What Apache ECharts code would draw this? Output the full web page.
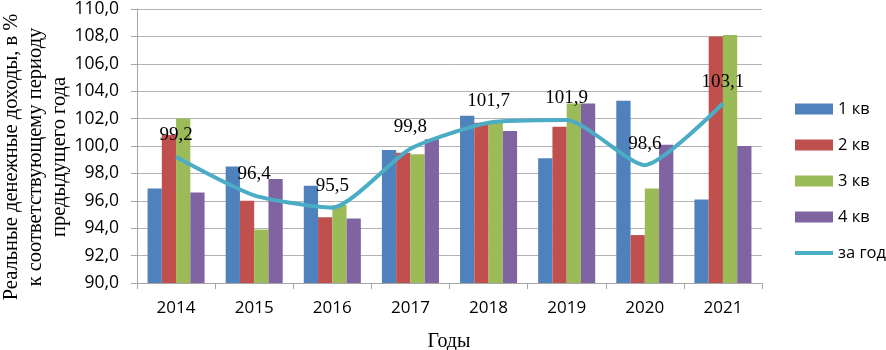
<!DOCTYPE html>
<html>
<head>
<meta charset="utf-8">
<script src="https://cdn.jsdelivr.net/npm/echarts@6/dist/echarts.min.js"></script>
<style>
    html, body {margin: 0; padding: 0; background: #fff;}
    #chart {width: 886px; height: 350px;}
</style>
</head>
<body>
<div id="chart"></div>
<script>
let years = ['2014', '2015', '2016', '2017', '2018', '2019', '2020', '2021'];
let q1 = [96.9, 98.5, 97.1, 99.7, 102.2, 99.1, 103.3, 96.1];
let q2 = [100.8, 96.0, 94.8, 99.5, 101.7, 101.4, 93.5, 108.0];
let q3 = [102.0, 93.9, 95.7, 99.4, 101.7, 103.1, 96.9, 108.1];
let q4 = [96.6, 97.6, 94.7, 100.5, 101.1, 103.1, 100.1, 100.0];
let yearTotal = [99.2, 96.4, 95.5, 99.8, 101.7, 101.9, 98.6, 103.1];
let seriesNames = ['1 кв', '2 кв', '3 кв', '4 кв', 'за год'];
let colors = ['#4F81BD', '#C0504D', '#9BBB59', '#8064A2', '#4BACC6'];

function commaNum(v) {
    return Number(v).toFixed(1).replace('.', ',');
}

let sansFont = '"Open Sans", "Liberation Sans", sans-serif';
let serifFont = '"Liberation Serif", "DejaVu Serif", serif';

let chartDom = document.getElementById('chart');
let myChart = echarts.init(chartDom, null, {renderer: 'canvas'});

function barSeries(name, data, color) {
    return {
        name: name,
        type: 'bar',
        data: data,
        barGap: '0%',
        barCategoryGap: '27%',
        itemStyle: {color: color},
        z: 2
    };
}

let option = {
    animation: false,
    grid: {left: 137, right: 124, top: 6, bottom: 67},
    legend: {
        orient: 'vertical',
        left: 793,
        top: 99,
        padding: 0,
        itemWidth: 38,
        itemHeight: 11,
        itemGap: 16,
        textStyle: {fontFamily: sansFont, fontSize: 16.5, color: '#000', lineHeight: 20},
        data: [
            {name: seriesNames[0], icon: 'rect'},
            {name: seriesNames[1], icon: 'rect'},
            {name: seriesNames[2], icon: 'rect'},
            {name: seriesNames[3], icon: 'rect'},
            {name: seriesNames[4], itemStyle: {opacity: 0}, lineStyle: {width: 4}}
        ]
    },
    xAxis: {
        type: 'category',
        data: years,
        axisLine: {lineStyle: {color: '#a6a6a6', width: 1}},
        axisTick: {show: true, length: 6, lineStyle: {color: '#a6a6a6'}},
        axisLabel: {fontFamily: sansFont, fontSize: 17, color: '#000', margin: 17},
        splitLine: {show: false}
    },
    yAxis: {
        type: 'value',
        min: 90,
        max: 110,
        interval: 2,
        axisLine: {show: true, lineStyle: {color: '#a6a6a6', width: 1}},
        axisTick: {show: true, length: 6, lineStyle: {color: '#a6a6a6'}},
        axisLabel: {
            fontFamily: sansFont, fontSize: 17.5, color: '#000', margin: 18,
            formatter: function (v) { return commaNum(v); }
        },
        splitLine: {lineStyle: {color: '#b3b3b3', width: 1}}
    },
    graphic: [
        {
            type: 'text',
            x: 36,
            y: 157,
            rotation: Math.PI / 2,
            style: {
                text: 'Реальные денежные доходы, в %\nк соответствующему периоду\nпредыдущего года',
                font: '20.5px ' + serifFont,
                fill: '#000',
                align: 'center',
                verticalAlign: 'middle',
                lineHeight: 24
            }
        },
        {
            type: 'text',
            x: 449,
            y: 342,
            style: {
                text: 'Годы',
                font: '20px ' + serifFont,
                fill: '#000',
                align: 'center',
                verticalAlign: 'middle'
            }
        }
    ],
    series: [
        barSeries(seriesNames[0], q1, colors[0]),
        barSeries(seriesNames[1], q2, colors[1]),
        barSeries(seriesNames[2], q3, colors[2]),
        barSeries(seriesNames[3], q4, colors[3]),
        {
            name: seriesNames[4],
            type: 'line',
            data: yearTotal,
            smooth: 0.2,
            symbol: 'circle',
            symbolSize: 0.1,
            showSymbol: true,
            lineStyle: {color: colors[4], width: 4},
            itemStyle: {color: colors[4]},
            z: 5,
            label: {
                show: true,
                position: 'top',
                distance: 12,
                fontFamily: serifFont,
                fontSize: 19,
                color: '#000',
                formatter: function (p) { return commaNum(p.value); }
            }
        }
    ]
};
option && myChart.setOption(option);
</script>
</body>
</html>
